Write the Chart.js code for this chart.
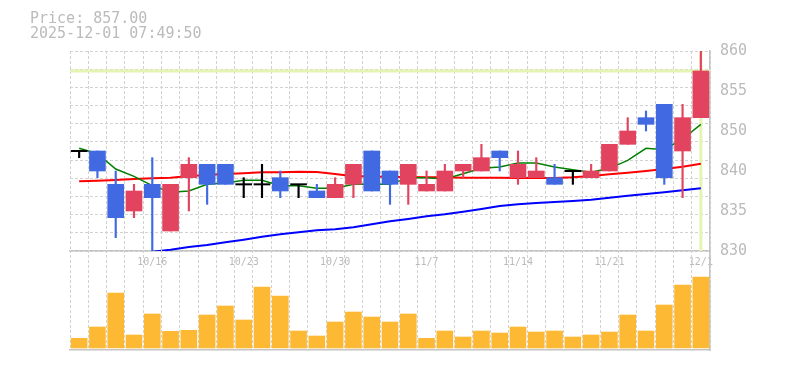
<!DOCTYPE html>
<html>
<head>
<meta charset="utf-8">
<script src="https://cdn.jsdelivr.net/npm/chart.js@4.4.1/dist/chart.umd.min.js"></script>
<style>
  body { margin: 0; background: #fff; }
  #wrap { position: relative; width: 785px; height: 370px; }
  #wrap canvas { position: absolute; left: 0; top: 0; }
  #info { position: absolute; left: 30px; top: 11px; font: 15px/15px 'DejaVu Sans Mono', monospace; color: #bbb; white-space: pre; }
</style>
</head>
<body>
<div id="wrap">
  <canvas id="priceChart" width="785" height="370"></canvas>
  <canvas id="volumeChart" width="785" height="370"></canvas>
  <div id="info">Price: 857.00
2025-12-01 07:49:50</div>
</div>
<script>
// 日付 (営業日)
const dates = ['10/9', '10/10', '10/14', '10/15', '10/16', '10/17', '10/20', '10/21', '10/22', '10/23',
  '10/24', '10/27', '10/28', '10/29', '10/30', '10/31', '11/4', '11/5', '11/6', '11/7',
  '11/10', '11/11', '11/12', '11/13', '11/14', '11/17', '11/18', '11/19', '11/20', '11/21',
  '11/25', '11/26', '11/27', '11/28', '12/1'];
const shownDates = ['10/16', '10/23', '10/30', '11/7', '11/14', '11/21', '12/1'];

// 四本値
const opens  = [845, 845, 840, 836, 840, 833, 841, 843, 843, 840, 840, 841, 840, 839, 838, 840, 845, 842, 840, 839,
  839, 842, 842, 845, 841, 841, 841, 842, 841, 842, 846, 850, 852, 845, 850];
const highs  = [845, 845, 842, 840, 844, 840, 844, 843, 843, 841, 843, 842, 840, 840, 841, 843, 845, 842, 843, 842,
  843, 843, 846, 845, 845, 844, 843, 842, 843, 846, 850, 851, 852, 852, 860];
const lows   = [844, 841, 832, 835, 830, 833, 836, 837, 840, 838, 838, 838, 838, 838, 838, 838, 839, 837, 837, 839,
  839, 841, 842, 842, 840, 841, 840, 840, 841, 842, 846, 848, 840, 838, 850];
const closes = [845, 842, 835, 839, 838, 840, 843, 840, 840, 840, 840, 839, 840, 838, 840, 843, 839, 840, 843, 840,
  842, 843, 844, 844, 843, 842, 840, 842, 842, 846, 848, 849, 841, 850, 857];

// 移動平均
const ma5  = [845.4, 844.6, 842.3, 841.2, 839.8, 838.8, 839.0, 840.0, 840.2, 840.6, 840.6, 839.8, 839.8, 839.4, 839.4,
  840.0, 840.0, 840.0, 841.0, 841.0, 840.8, 841.6, 842.4, 842.6, 843.2, 843.2, 842.6, 842.2, 841.8, 842.4,
  843.6, 845.4, 845.2, 846.8, 849.0];
const ma25 = [840.45, 840.55, 840.65, 840.8, 840.9, 841.0, 841.25, 841.4, 841.55, 841.65, 841.8, 841.8, 841.9, 841.85,
  841.55, 841.2, 841.2, 841.1, 841.1, 841.05, 841.05, 841.0, 841.0, 841.0, 840.95, 840.95, 840.95, 841.05,
  841.25, 841.5, 841.75, 842.0, 842.3, 842.65, 843.1];
const ma75 = [null, null, null, null, 829.9, 830.2, 830.6, 830.9, 831.3, 831.7, 832.15, 832.5, 832.8, 833.1, 833.25,
  833.55, 834.0, 834.45, 834.8, 835.2, 835.5, 835.9, 836.3, 836.75, 837.0, 837.2, 837.35, 837.5, 837.7, 838.0,
  838.3, 838.55, 838.8, 839.1, 839.4];

// 出来高
const volumes = [970, 2100, 5500, 1300, 3400, 1670, 1770, 3300, 4200, 2800, 6100, 5200, 1700, 1200, 2600, 3600,
  3100, 2600, 3400, 970, 1700, 1100, 1700, 1500, 2100, 1600, 1700, 1100, 1300, 1600, 3300, 1700, 4300, 6300, 7100];

const yTickValues = [830, 836, 842, 848, 854, 860];
const yTickLabels = ['830', '835', '840', '850', '855', '860'];
const cursorIndex = 34;
const cursorPrice = 857;

const UP = '#e2445f', DOWN = '#4169e1', FLAT = '#000000';
const gridColor = '#d2d2d2', axisColor = '#c4c4c4';

Chart.defaults.font.family = "'DejaVu Sans Mono', monospace";
Chart.defaults.color = '#bbb';

const colors = opens.map((o, i) => closes[i] > o ? UP : (closes[i] < o ? DOWN : FLAT));
const bodies = opens.map((o, i) => o === closes[i] ? [o - 0.1, o + 0.1] : [Math.min(o, closes[i]), Math.max(o, closes[i])]);
const wicks = lows.map((l, i) => [l, highs[i]]);

// カーソル位置の十字線
const cursorPlugin = {
    id: 'cursor',
    beforeDatasetsDraw(chart) {
        const { ctx, chartArea, scales } = chart;
        const x = scales.x.getPixelForValue(cursorIndex);
        const y = scales.y.getPixelForValue(cursorPrice);
        ctx.save();
        ctx.strokeStyle = '#e4f5b2';
        ctx.lineWidth = 3;
        ctx.beginPath();
        ctx.moveTo(chartArea.left, y);
        ctx.lineTo(chartArea.right, y);
        ctx.moveTo(x, chartArea.top);
        ctx.lineTo(x, chartArea.bottom);
        ctx.stroke();
        ctx.restore();
    }
};

new Chart(document.getElementById('priceChart'), {
    type: 'bar',
    data: {
        labels: dates,
        datasets: [
            { type: 'bar', data: bodies, backgroundColor: colors, barThickness: 16, grouped: false, order: 0 },
            { type: 'bar', data: wicks, backgroundColor: colors, barThickness: 1.5, grouped: false, order: 1 },
            { type: 'line', data: ma5, borderColor: '#008000', borderWidth: 1.5, pointRadius: 0, tension: 0, order: 2 },
            { type: 'line', data: ma25, borderColor: '#ff0000', borderWidth: 2, pointRadius: 0, tension: 0, order: 2 },
            { type: 'line', data: ma75, borderColor: '#0000ff', borderWidth: 2, pointRadius: 0, tension: 0, order: 2 }
        ]
    },
    options: {
        responsive: false,
        animation: false,
        layout: { padding: { left: 70, top: 51, right: 0, bottom: 0 } },
        plugins: { legend: { display: false }, tooltip: { enabled: false } },
        scales: {
            x: {
                grid: { color: gridColor, drawTicks: false, offset: true },
                border: { color: axisColor, width: 1.5, dash: [3, 2] },
                ticks: {
                    autoSkip: false, maxRotation: 0, padding: 5, font: { size: 10 },
                    callback: (v, i) => shownDates.includes(dates[i]) ? dates[i] : ''
                },
                afterFit: s => { s.height = 119; }
            },
            y: {
                position: 'right', min: 830, max: 860, weight: 0,
                afterBuildTicks: s => {
                    const ticks = [];
                    for (let k = 0; k <= 11; k++) ticks.push({ value: 830 + k * 30 / 11 });
                    s.ticks = ticks;
                },
                ticks: { display: false },
                grid: { color: gridColor, drawTicks: false },
                border: { color: axisColor, width: 1.5, dash: [3, 2] },
                afterFit: s => { s.width = 0; }
            },
            yLabels: {
                position: 'right', min: 830, max: 860, weight: 1,
                afterBuildTicks: s => { s.ticks = yTickValues.map(v => ({ value: v })); },
                ticks: { padding: 10, font: { size: 15 }, callback: (v, i) => yTickLabels[i] },
                grid: { display: false, drawTicks: false },
                border: { display: false },
                afterFit: s => { s.width = 75; }
            }
        }
    },
    plugins: [cursorPlugin]
});

new Chart(document.getElementById('volumeChart'), {
    type: 'bar',
    data: {
        labels: dates,
        datasets: [{ data: volumes, backgroundColor: '#fdb933', barThickness: 16 }]
    },
    options: {
        responsive: false,
        animation: false,
        layout: { padding: { left: 70, top: 250, right: 0, bottom: 20 } },
        plugins: { legend: { display: false }, tooltip: { enabled: false } },
        scales: {
            x: {
                grid: { color: gridColor, drawTicks: false, offset: true },
                border: { color: axisColor, width: 1.5, dash: [3, 2] },
                ticks: { display: false },
                afterFit: s => { s.height = 0; }
            },
            y: {
                position: 'right', min: -200, max: 9800,
                ticks: { display: false },
                grid: { display: false, drawTicks: false },
                border: { color: axisColor, width: 1.5 },
                afterFit: s => { s.width = 75; }
            }
        }
    }
});
</script>
</body>
</html>
